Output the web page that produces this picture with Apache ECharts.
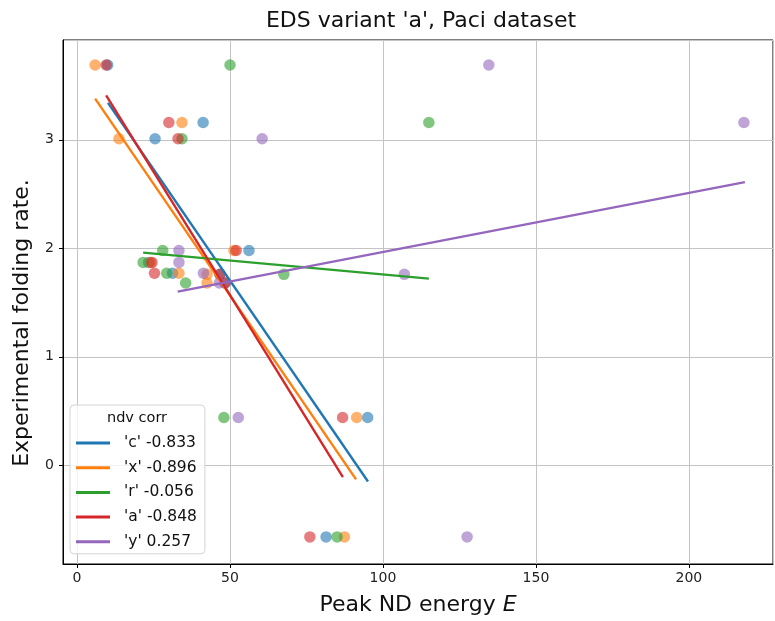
<!DOCTYPE html>
<html>
<head>
<meta charset="utf-8">
<script src="https://cdn.jsdelivr.net/npm/echarts@6/dist/echarts.min.js"></script>
<style>html,body{margin:0;padding:0;background:#fff}#c{width:775px;height:621px}</style>
</head>
<body>
<div id="c"></div>
<script>
// Experimental folding rate (shared y for each protein)
const foldingRate = [3.69, 3.16, 3.01, 1.98, 1.87, 1.77, 1.76, 1.68, 0.44, -0.66];
// Peak ND energy per variant
const energyC = [10, 41.2, 25.5, 56.2, 23.4, 31.2, 46.7, 48.4, 95, 81.4];
const energyX = [5.9, 34.3, 13.7, 51.3, 24, 33.3, 42.5, 42.5, 91.4, 87.4];
const energyR = [50, 115, 34.3, 28, 21.6, 29.3, 67.6, 35.5, 48, 85];
const energyA = [9.5, 30, 33, 52, 24.5, 25.3, 46.7, 48.4, 86.8, 76.1];
const energyY = [134.6, 218, 60.5, 33.3, 33.3, 41.3, 107, 46.5, 52.7, 127.5];
// Fitted line endpoints
const fitC = [[10.1, 3.34], [95.1, -0.15]];
const fitX = [[5.9, 3.38], [91.2, -0.13]];
const fitR = [[21.6, 1.96], [115, 1.72]];
const fitA = [[9.5, 3.41], [86.9, -0.11]];
const fitY = [[32.9, 1.60], [218.3, 2.61]];
const legendNames = ["'c' -0.833", "'x' -0.896", "'r' -0.056", "'a' -0.848", "'y' 0.257"];
const colors = ['#1f77b4', '#ff7f0e', '#2ca02c', '#d62728', '#9467bd'];

const energies = [energyC, energyX, energyR, energyA, energyY];
const fits = [fitC, fitX, fitR, fitA, fitY];

const FONT = 'DejaVu Sans';
const series = [];
energies.forEach((e, i) => {
  series.push({
    name: 'pts' + i,
    type: 'scatter',
    data: e.map((v, j) => [v, foldingRate[j]]),
    symbolSize: 11.5,
    itemStyle: { color: colors[i], opacity: 0.6 },
    z: 2
  });
});
fits.forEach((f, i) => {
  series.push({
    name: legendNames[i],
    type: 'line',
    data: f,
    showSymbol: false,
    lineStyle: { color: colors[i], width: 2.4 },
    itemStyle: { color: colors[i] },
    z: 3
  });
});

const chart = echarts.init(document.getElementById('c'), null, { renderer: 'canvas' });
chart.setOption({
  animation: false,
  backgroundColor: '#fff',
  textStyle: { fontFamily: FONT },
  graphic: [{
    type: 'text', z: 100, x: 421, y: 21,
    style: { text: "EDS variant 'a', Paci dataset", x: 0, y: 0, textAlign: 'center', textVerticalAlign: 'middle', fontFamily: FONT, fontSize: 22, fill: '#111' }
  }, {
    type: 'text', z: 100,
    style: { text: 'ndv corr', x: 137, y: 418, textAlign: 'center', textVerticalAlign: 'middle', fontFamily: FONT, fontSize: 14.5, fill: '#111' }
  }, {
    type: 'text', z: 100, x: 22, y: 323, rotation: Math.PI / 2,
    style: { text: 'Experimental folding rate.', x: 0, y: 0, textAlign: 'center', textVerticalAlign: 'middle', fontFamily: FONT, fontSize: 22, fill: '#111' }
  }],
  grid: { left: 63, right: 2, top: 40, bottom: 55, show: true, borderColor: '#000', borderWidth: 1, backgroundColor: 'transparent' },
  xAxis: {
    type: 'value', min: -4.6, max: 227.5, splitNumber: 5,
    name: 'Peak ND energy {i|E}', nameLocation: 'middle', nameGap: 30,
    nameTextStyle: { fontFamily: FONT, fontSize: 22, color: '#111', rich: { i: { fontStyle: 'italic', fontSize: 22, fontFamily: FONT, color: '#111' } } },
    axisLine: { show: true, onZero: false, lineStyle: { color: '#000', width: 1 } },
    axisTick: { show: true, length: 4, lineStyle: { color: '#000' } },
    axisLabel: { fontFamily: FONT, fontSize: 14, color: '#222', margin: 7, showMinLabel: false, showMaxLabel: false },
    splitLine: { show: true, lineStyle: { color: '#c4c4c4', width: 1 } }
  },
  yAxis: {
    type: 'value', min: -0.91, max: 3.92, splitNumber: 5,
    axisLine: { show: true, onZero: false, lineStyle: { color: '#000', width: 1 } },
    axisTick: { show: true, length: 4, lineStyle: { color: '#000' } },
    axisLabel: { fontFamily: FONT, fontSize: 14, color: '#222', margin: 9, showMinLabel: false, showMaxLabel: false },
    splitLine: { show: true, lineStyle: { color: '#c4c4c4', width: 1 } }
  },
  legend: {
    data: legendNames,
    orient: 'vertical',
    left: 70, top: 405,
    padding: [30, 8, 4, 6],
    itemWidth: 34, itemHeight: 3, itemGap: 8.7,
    icon: 'rect',
    backgroundColor: 'rgba(255,255,255,0.8)',
    borderColor: '#d4d4d4', borderWidth: 1, borderRadius: 4,
    textStyle: { fontFamily: FONT, fontSize: 15.5, color: '#111', lineHeight: 16, padding: [0, 0, 0, 9] },
    selectedMode: false
  },
  series: series
});
</script>
</body>
</html>
